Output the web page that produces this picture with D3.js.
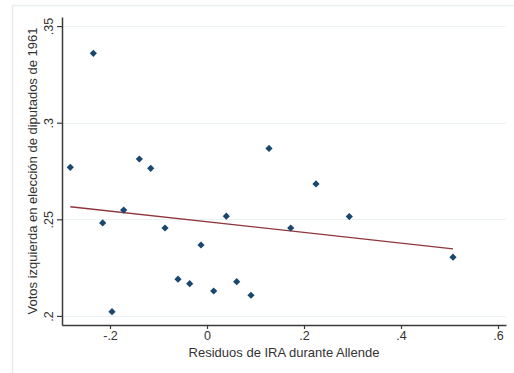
<!DOCTYPE html>
<html>
<head>
<meta charset="utf-8">
<script src="https://cdn.jsdelivr.net/npm/d3@7"></script>
<style>
  body { margin: 0; background: #fff; }
  svg { display: block; }
  text { font-family: "Liberation Sans", Arial, sans-serif; fill: #333; }
</style>
</head>
<body>
<svg id="chart" width="514" height="373"></svg>
<script>
// Data
const residuosIRA = [-0.2819, -0.2344, -0.2151, -0.1959, -0.1718, -0.1396, -0.1161, -0.0866, -0.0598, -0.0357,
                     -0.0124, 0.0138, 0.0398, 0.0612, 0.0907, 0.1278, 0.1726, 0.2247, 0.2934, 0.5072];
const votosIzquierda = [0.2769, 0.3359, 0.2481, 0.2022, 0.2548, 0.2812, 0.2764, 0.2455, 0.2190, 0.2167,
                        0.2367, 0.2129, 0.2516, 0.2177, 0.2107, 0.2867, 0.2455, 0.2683, 0.2514, 0.2304];
const fitX = [-0.2819, 0.5072];
const fitY = [0.2565, 0.2347];
const xTicks = [-0.2, 0, 0.2, 0.4, 0.6];
const xTickLabels = ["-.2", "0", ".2", ".4", ".6"];
const yTicks = [0.2, 0.25, 0.3, 0.35];
const yTickLabels = [".2", ".25", ".3", ".35"];
const xTitle = "Residuos de IRA durante Allende";
const yTitle = "Votos izquierda en elección de diputados de 1961";

(function () {
const svg = d3.select("#chart");

// outer graph border
svg.append("rect").attr("x", 12.5).attr("y", 5.5).attr("width", 520).attr("height", 400)
  .attr("fill", "none").attr("stroke", "#e6eef0").attr("stroke-width", 1.5);

const pLeft = 62, pRight = 506, pTop = 17, pBottom = 325;
const x = d3.scaleLinear().domain([-0.299, 0.6165]).range([pLeft, pRight]);
const y = d3.scaleLinear().domain([0.1953, 0.3547]).range([pBottom, pTop]);

// gridlines
svg.append("g").selectAll("line").data(yTicks).join("line")
  .attr("x1", pLeft).attr("x2", pRight)
  .attr("y1", d => Math.round(y(d)) + 0.5).attr("y2", d => Math.round(y(d)) + 0.5)
  .attr("stroke", "#eaf2f3").attr("stroke-width", 1.2);

// x axis
const xAxis = d3.axisBottom(x).tickValues(xTicks).tickFormat((d, i) => xTickLabels[i])
  .tickSizeInner(4).tickSizeOuter(0).tickPadding(2);
const gx = svg.append("g").attr("transform", `translate(0,${pBottom})`).call(xAxis);
gx.select(".domain").attr("stroke", "#3a3a3a").attr("stroke-width", 1.5);
gx.selectAll(".tick line").attr("stroke", "#3a3a3a").attr("stroke-width", 1.2);
gx.selectAll(".tick text").attr("font-size", 12.5).attr("fill", "#333")
  .attr("font-family", "Liberation Sans, Arial, sans-serif");

// y axis
const yAxis = d3.axisLeft(y).tickValues(yTicks).tickFormat((d, i) => yTickLabels[i])
  .tickSizeInner(5).tickSizeOuter(0).tickPadding(3);
const gy = svg.append("g").attr("transform", `translate(${pLeft},0)`).call(yAxis);
gy.select(".domain").attr("stroke", "#3a3a3a").attr("stroke-width", 1.5);
gy.selectAll(".tick line").attr("stroke", "#3a3a3a").attr("stroke-width", 1.2);
gy.selectAll(".tick text").attr("font-size", 12.5).attr("fill", "#333")
  .attr("font-family", "Liberation Sans, Arial, sans-serif")
  .attr("text-anchor", "middle").attr("x", null).attr("dy", "0em")
  .attr("transform", "translate(-9,0) rotate(-90)");

// axis titles
svg.append("text").attr("x", (pLeft + pRight) / 2).attr("y", 357)
  .attr("text-anchor", "middle").attr("font-size", 13).text(xTitle);
svg.append("text").attr("transform", `translate(37,${(pTop + pBottom) / 2}) rotate(-90)`)
  .attr("text-anchor", "middle").attr("font-size", 13).text(yTitle);

// fitted line
const fitData = fitX.map((d, i) => [d, fitY[i]]);
svg.append("path").datum(fitData)
  .attr("d", d3.line().x(d => x(d[0])).y(d => y(d[1])))
  .attr("fill", "none").attr("stroke", "#90353b").attr("stroke-width", 1.3);

// scatter points
const pts = residuosIRA.map((d, i) => [d, votosIzquierda[i]]);
svg.append("g").selectAll("path").data(pts).join("path")
  .attr("d", d3.symbol().type(d3.symbolSquare).size(26))
  .attr("transform", d => `translate(${x(d[0])},${y(d[1])}) rotate(45)`)
  .attr("fill", "#1a476f");
})();
</script>
</body>
</html>
